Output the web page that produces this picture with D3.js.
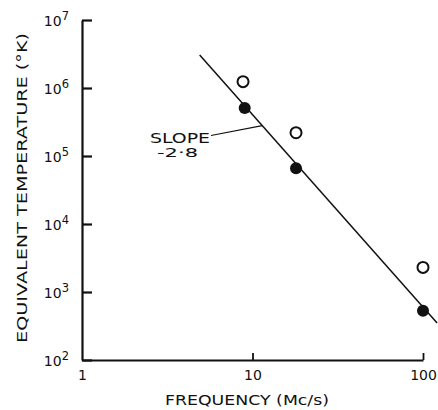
<!DOCTYPE html>
<html>
<head>
<meta charset="utf-8">
<script src="https://cdn.jsdelivr.net/npm/d3@7"></script>
<style>
  html, body { margin: 0; padding: 0; background: #fff; }
  svg { display: block; }
  text { font-family: "DejaVu Sans", sans-serif; fill: #111; }
</style>
</head>
<body>
<svg id="chart" width="438" height="410"></svg>
<script>
// Measured equivalent temperatures versus frequency
const filledFreq = [9, 18, 100];
const filledTemp = [5.1e5, 6.6e4, 5.3e2];
const openFreq = [8.8, 18, 100];
const openTemp = [1.24e6, 2.2e5, 2.3e3];

// Fitted power-law line (end points)
const lineFreq = [4.9, 121];
const lineTemp = [3.05e6, 3.5e2];

// Where the slope leader meets the fitted line
const leaderFreq = 11.4;
const leaderTemp = 2.8e5;

const xTicks = [1, 10, 100];
const yExponents = [2, 3, 4, 5, 6, 7];

const svg = d3.select("#chart");
const x = d3.scaleLog().domain([1, 100]).range([82, 423]);
const y = d3.scaleLog().domain([1e2, 1e7]).range([360, 20]);

// Y axis: ticks point inward, labels as powers of ten
const yAxis = svg.append("g")
  .attr("transform", `translate(${x.range()[0]},0)`)
  .call(d3.axisLeft(y)
    .tickValues(yExponents.map(e => Math.pow(10, e)))
    .tickSizeInner(-10).tickSizeOuter(0).tickPadding(13)
    .tickFormat(() => ""));
yAxis.select(".domain").attr("stroke", "#111").attr("stroke-width", 2.2);
yAxis.selectAll(".tick line").attr("stroke", "#111").attr("stroke-width", 2.2);
yAxis.selectAll(".tick text").each(function(d) {
  const t = d3.select(this)
    .attr("font-size", 14).attr("font-family", "DejaVu Sans, sans-serif")
    .attr("fill", "#111").attr("dy", "0.42em");
  t.append("tspan").text("10");
  t.append("tspan").attr("dy", "-0.55em").attr("font-size", 11.5)
    .text(Math.round(Math.log10(d)));
});

// X axis
const xAxis = svg.append("g")
  .attr("transform", `translate(0,${y.range()[0]})`)
  .call(d3.axisBottom(x)
    .tickValues(xTicks)
    .tickSizeInner(-7).tickSizeOuter(0).tickPadding(10)
    .tickFormat(d3.format("d")));
xAxis.select(".domain").attr("stroke", "#111").attr("stroke-width", 2.2);
xAxis.selectAll(".tick line").attr("stroke", "#111").attr("stroke-width", 1.8);
xAxis.selectAll(".tick text")
  .attr("font-size", 14).attr("font-family", "DejaVu Sans, sans-serif").attr("fill", "#111");
xAxis.selectAll(".tick").filter(d => d === 1).select("line").remove();

// Axis titles
svg.append("text")
  .attr("x", 247).attr("y", 405)
  .attr("text-anchor", "middle")
  .attr("font-size", 14)
  .attr("textLength", 164).attr("lengthAdjust", "spacingAndGlyphs")
  .text("FREQUENCY (Mc/s)");

svg.append("text")
  .attr("transform", "translate(27,188) rotate(-90)")
  .attr("text-anchor", "middle")
  .attr("font-size", 14)
  .attr("textLength", 310).attr("lengthAdjust", "spacingAndGlyphs")
  .text("EQUIVALENT TEMPERATURE (°K)");

// Fitted line
const line = d3.line().x(d => x(d[0])).y(d => y(d[1]));
svg.append("path")
  .datum(lineFreq.map((f, i) => [f, lineTemp[i]]))
  .attr("d", line)
  .attr("fill", "none").attr("stroke", "#111").attr("stroke-width", 1.5);

// Slope annotation
svg.append("line")
  .attr("x1", 211).attr("y1", 135.5)
  .attr("x2", x(leaderFreq)).attr("y2", y(leaderTemp))
  .attr("stroke", "#111").attr("stroke-width", 1.2);
svg.append("text")
  .attr("x", 150).attr("y", 143)
  .attr("font-size", 13.5)
  .attr("textLength", 60).attr("lengthAdjust", "spacingAndGlyphs")
  .text("SLOPE");
svg.append("text")
  .attr("x", 157).attr("y", 157)
  .attr("font-size", 12.5)
  .attr("textLength", 41).attr("lengthAdjust", "spacingAndGlyphs")
  .text("-2·8");

// Open circles
svg.append("g").selectAll("circle")
  .data(openFreq.map((f, i) => [f, openTemp[i]]))
  .join("circle")
  .attr("cx", d => x(d[0])).attr("cy", d => y(d[1]))
  .attr("r", 5.5)
  .attr("fill", "#fff").attr("stroke", "#111").attr("stroke-width", 2);

// Filled circles
svg.append("g").selectAll("circle")
  .data(filledFreq.map((f, i) => [f, filledTemp[i]]))
  .join("circle")
  .attr("cx", d => x(d[0])).attr("cy", d => y(d[1]))
  .attr("r", 6)
  .attr("fill", "#111");
</script>
</body>
</html>
